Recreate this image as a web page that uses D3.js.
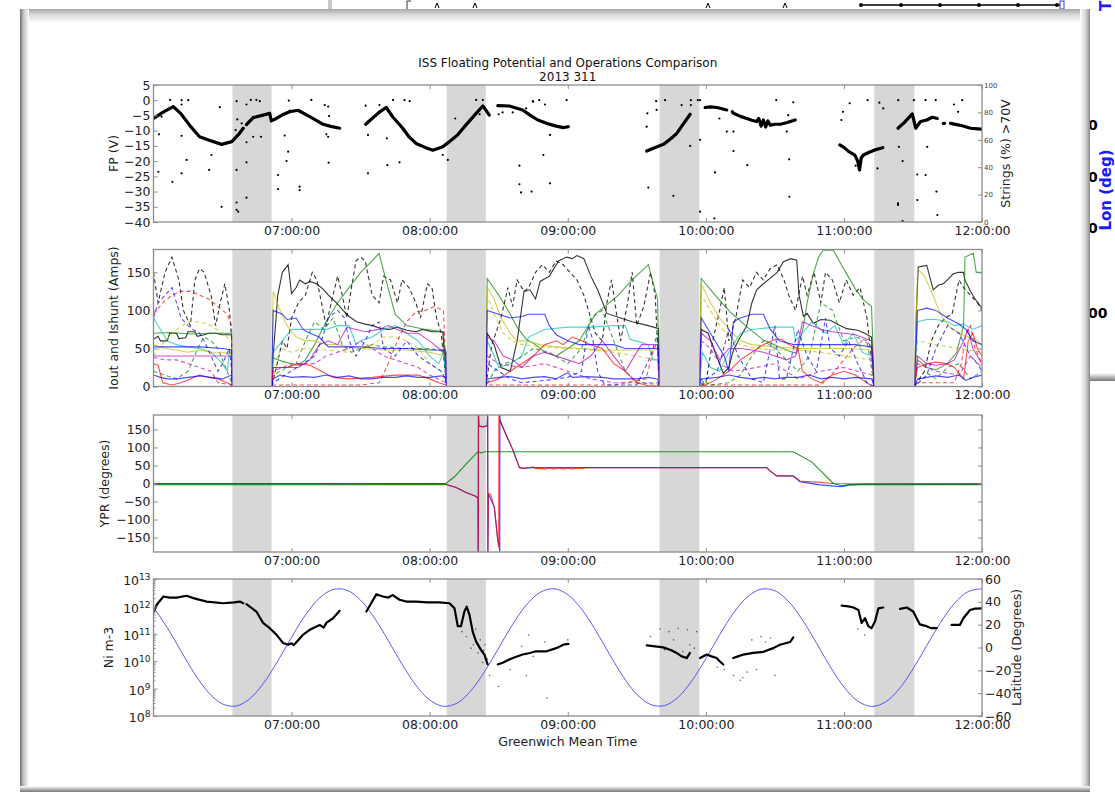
<!DOCTYPE html>
<html>
<head>
<meta charset="utf-8">
<script src="https://cdn.jsdelivr.net/npm/d3@7"></script>
<style>
  body { margin: 0; background: #fff; }
  svg { display: block; }
</style>
</head>
<body>
<div id="chart"></div>
<script>
// ISS floating potential comparison, 2013 day 311 (06:00 - 12:00 GMT)
// All times are minutes after 06:00:00.

const hourTicks = [7, 8, 9, 10, 11, 12];
const eclipses = [[34.3, 51.3], [127.4, 144.4], [219.9, 237.2], [313.2, 330.6]];

// --- FP (V): dense trace (segments) + stray points
const fpTrace = [
  [[0,-6],[4,-4],[8.6,-2.1],[12,-4.5],[16,-8.5],[20,-12],[24.5,-13.2],[29.6,-14.5],[34,-13.6],[36.8,-11.4],[39,-9.2]],
  [[40.4,-8],[43.3,-5.7],[47.6,-4.9],[50.5,-4.3],[51.2,-6.8],[53.4,-6],[56,-4.8],[59.2,-3.8],[62.8,-3.3],[67.9,-5.4],[73.7,-7.9],[77,-8.6],[80.9,-9.2]],
  [[92.2,-7.9],[95,-6],[98,-4],[101.1,-2.4],[104,-5.5],[108.3,-9.2],[111,-12],[114.1,-14.2],[118,-15.5],[121.4,-16.4],[125.7,-15.3],[128.6,-13.6],[132,-11.5],[135.8,-8.1],[140,-4.5],[143.1,-1.9],[144.2,-3],[145.9,-4.9]],
  [[149.6,-1.8],[154.6,-1.9],[160.4,-3.2],[163.6,-4.9],[167,-6.5],[170.8,-7.6],[175,-8.5],[178,-9],[180.2,-8.7]],
  [[214.3,-16.7],[218,-15.5],[221.6,-14.5],[225,-12.5],[227.4,-10.9],[230,-8],[233.2,-4.6]],
  [[239.7,-2.4],[242,-2.2],[244.8,-2.4],[247,-2.8],[249.1,-3.2]],
  [[251.5,-3.8],[252,-4.3],[255,-5.3],[257.8,-6],[260,-6.6],[262,-7],[263,-6],[264,-8.5],[265,-6.5],[266,-8.8],[267,-6.8],[268,-8.2],[270,-7.9],[272.3,-7.9],[275,-7.4],[278.8,-6.5]],
  [[298.2,-14.7],[300,-15.5],[302,-16.8],[304.7,-18],[306,-20],[306.8,-22.9],[307.5,-19],[308.5,-18],[311,-17.1],[314,-16.2],[316.9,-15.6]],
  [[323.5,-9.2],[326,-7.5],[329.7,-4.5],[331.2,-9.2],[333.3,-7],[336,-6.5],[338.4,-5.6],[340.6,-6]],
  [[343.2,-7.6],[343.7,-7.6]],
  [[346.3,-7.6],[349,-8],[351.4,-8.4],[355,-9.2],[359.6,-9.5]]
];
const fpScatter = [
  [7.2,0.1],[12.2,0],[12.2,-1.4],[15.1,0],[3.5,-5.4],[2.4,-11.2],[2.1,-23.5],[8.2,-26.8],[12.2,-11.7],[14.4,-19.6],
  [12.2,-24],[24.2,-22.9],[25.2,-18],[29.6,-35],[28.8,-2.3],[36.1,-0.3],[36.4,-6.3],[35.7,-9.8],[36.1,-22.9],[36.1,-33.6],
  [36.1,-36],[36.8,-36.6],[40.4,-1.4],[42.3,0.1],[44.7,0.1],[40.4,-13.8],[40.4,-20.4],[43.3,-12],[46.7,-12],[40.4,-32],
  [46.2,-0.3],[38.3,-7.6],[58.8,-0.1],[59.2,-3.4],[57,-11.6],[58.5,-16.9],[57.8,-20],[54.1,-24.6],[54.1,-29.2],[63.5,-28.4],
  [63.5,-29.5],[68.6,0.1],[74.4,-1.6],[75.9,-2.1],[76.3,-5.2],[75.1,-11.2],[75.9,-12],[76.1,-20.5],[92.2,-1.8],[93.2,-11.4],
  [93.2,-24],[98.2,-1.6],[101.4,-12.5],[101.6,-21.3],[104.1,0.1],[106.9,-20.4],[109.1,0],[111.3,-0.3],[125.7,-18],[127.9,-19.6],
  [131.1,-6],[140.2,0.1],[143.1,0.1],[141.7,-4.6],[150,-4.6],[151.7,-4],[156.1,-4],[159,-21.5],[159,-27.6],[159.7,-30.3],
  [161.9,-2.7],[164.8,-0.3],[167.6,0],[165,-0.5],[170.1,-1.4],[169.4,-18],[172.3,-11.4],[172.3,-27.3],[164.3,-30],[179.5,0],
  [214.3,-8.7],[214.6,-4.3],[215,-28.7],[218.4,-0.3],[218.6,-3.2],[222.3,0],[225.9,-31.4],[229.5,-1.6],[233.5,0],[233.2,-15],
  [233.5,-1.6],[237.5,-13],[237.5,-36.6],[236.5,0],[237.5,0],[243.7,-38.8],[244,-23.7],[245.9,-6],[249.1,-10.3],[252,-10.3],
  [252,-16.7],[258,-21.3],[270.6,0],[275.2,-10.3],[276.2,-19.4],[276.3,-31.7],[278,-0.7],[275.8,-4.9],[298.9,-6.5],[299.6,-3.8],
  [302.5,-1],[310.3,0],[315.4,-0.8],[317.1,-2.7],[314.6,-22.4],[305.1,-21.5],[323.5,-33.9],[323.5,-34.4],[323.6,0],[323.9,-15.3],
  [325.5,-20],[325.5,-39.7],[330.4,0],[331.9,-24.4],[331.9,-32.8],[335.5,-24.6],[336.2,-15.3],[335.5,0],[339.9,0],[340.2,-30],
  [340.6,-37.7],[347.8,-1.4],[349.6,-3.8],[351.4,0]
];

// --- Iout and Ishunt (Amps): one entry per sunlit window (A..E)
const iBlack = [
  [[0,62],[2,66],[3,60],[6,60],[7,70],[10,70],[11,63],[14,64],[15,72],[18,72],[19,66],[22,68],[24,70],[27,70],[30,68],[34,68]],
  [[52,40],[54,120],[56,150],[58.5,160],[60,122],[62,130],[63.5,140],[66,135],[68,138],[70.8,135],[73.7,128],[76,120],[79.5,110],[82.4,100],[85,92],[88.2,85],[92,82],[95.3,80],[99,76],[102.6,75],[106,78],[110,74],[114,72],[117,75],[121,72],[125.7,72]],
  [[145,70],[148,55],[151,25],[155,20],[158,60],[161,125],[163.6,127],[166,115],[168,138],[172,145],[176,165],[179.5,170],[182,168],[184,172],[187,168],[190,145],[193,127],[197,96],[203,90],[208,85],[215,80],[219.5,76]],
  [[238,75],[241,70],[244,45],[247.6,17],[250,25],[252,48],[255,65],[257.7,79],[260,110],[262.1,127],[265,135],[267.9,142],[271,150],[273.7,164],[277,168],[279.5,166],[280.5,120],[282.4,92],[284,96],[286.7,83],[290,88],[294,87],[297,82],[301.2,76],[306,74],[309,70],[312,65]],
  [[331.5,100],[332.3,157],[336,159],[338.8,127],[341,133],[343.2,135],[345,140],[347.5,148],[350,150],[351.9,150],[352.6,140],[355,125],[357,115],[360,103]]
];
const iBlackDash = [
  [[0,150],[2,110],[5,150],[8,170],[11,140],[13,100],[16,80],[18,140],[20,155],[22,150],[25,120],[27,80],[29,110],[31,135],[33,100],[34,60]],
  [[53,20],[56,60],[58,50],[60,90],[63,110],[66,120],[69,150],[71,140],[73,110],[75,80],[78,120],[80,145],[82,120],[84,90],[86,130],[88,165],[90,170],[92,165],[95,120],[98,110],[100,145],[103,140],[106,110],[108,140],[111,130],[114,110],[116,90],[119,135],[121,130],[123,90],[125,70]],
  [[147,55],[151,90],[154,130],[156,105],[158,140],[161,125],[163,130],[166,150],[169,160],[172,150],[175,165],[178,160],[181,150],[184,140],[187,120],[189,100],[192,70],[195,60],[197,110],[199,140],[201,100],[203,60],[206,110],[208,150],[210,80],[213,105],[216,150],[218,120]],
  [[240,5],[243,60],[246,100],[248,130],[250,60],[253,90],[256,140],[259,130],[262,150],[265,140],[268,155],[271,160],[274,140],[276,120],[279,100],[282,145],[284,120],[287,150],[290,110],[292,150],[295,140],[298,110],[301,140],[304,120],[307,130],[310,90]],
  [[335,20],[338,60],[341,80],[344,90],[347,95],[350,140],[352,130],[355,120],[358,110],[360,100]]
];
const iGreen = [
  [[0,70],[8,71],[16,69],[24,70],[34,70]],
  [[51.5,38],[56,33],[60,30],[63,28],[66,35],[70,55],[75,85],[80,110],[85,130],[90,150],[95,165],[98,175],[101,140],[105,95],[110,80],[118,75],[126,72]],
  [[145,142],[150,120],[155,95],[158,78],[162,62],[166,55],[170,45],[175,40],[180,50],[185,60],[188,75],[192,95],[196,105],[202,120],[208,140],[215,160],[219,115]],
  [[238,142],[244,120],[250.5,98],[258,78],[265,61],[272,52],[276.6,46],[279.5,44],[280.5,55],[282.4,79],[284,110],[286.7,148],[289,170],[291,179],[295.4,179],[298,165],[301.2,148],[305,128],[308.4,114],[312,105]],
  [[332,35],[336,25],[340,22],[345,30],[349,45],[352,80],[352.6,170],[356.2,175],[357.5,150],[360,150]]
];
const iGreenDash = [
  [[0,20],[5,15],[10,10],[15,20],[20,55],[22,65],[25,60],[28,50],[32,20],[34,5]],
  [[52,15],[58,25],[62,30],[66,60],[70,85],[74,75],[78,90],[82,55],[86,45],[90,50],[95,55],[100,52],[110,50],[120,50],[127,45]],
  [[148,20],[152,30],[158,35],[165,50],[172,45],[180,30],[186,50],[190,90],[195,100],[200,60],[205,20],[210,5],[219,3]],
  [[238,10],[242,2],[250,5],[255,15],[260,40],[265,60],[270,50],[280,20],[285,40],[290,110],[295,100],[300,60],[305,65],[310,60]],
  [[335,20],[340,10],[345,25],[350,30],[355,10],[360,20]]
];
const iCyan = [
  [[0,90],[3,75],[6,60],[10,55],[15,52],[20,50],[25,45],[30,30],[32,20],[33,45],[34,40]],
  [[52,45],[56,60],[60,75],[65,75],[70,75],[75,75],[80,80],[85,80],[88,55],[90,60],[95,65],[100,75],[105,80],[110,70],[115,60],[120,40],[124,30],[126,45]],
  [[145,60],[148,40],[150,25],[155,30],[160,40],[163,65],[170,75],[180,78],[190,78],[200,80],[205,80],[207,62],[212,58],[215,55],[217,35],[219,35]],
  [[238.5,45],[242,25],[246,20],[250,45],[255,70],[260,75],[270,78],[278,78],[279,60],[282,70],[286,85],[292,70],[296,80],[300,55],[304,70],[308,45],[312,40]],
  [[332,85],[336,88],[340,88],[345,85],[348,80],[352,82],[356,75],[360,80]]
];
const iBlue = [
  [[0,52],[10,52],[20,52],[30,50],[34,48]],
  [[52,100],[56,95],[58,88],[62,90],[65,75],[68,70],[72,65],[76,52],[80,52],[90,52],[100,50],[110,50],[120,48],[127,48]],
  [[145,100],[150,95],[155,90],[160,92],[163,95],[170,95],[172,80],[175,68],[180,60],[185,55],[190,55],[200,55],[205,50],[210,50],[215,50],[219.5,50]],
  [[238,90],[242,70],[248,40],[250,20],[252,85],[255,90],[260,95],[265,95],[268,75],[272,60],[278,55],[285,55],[290,55],[295,55],[300,55],[305,55],[312,52]],
  [[332,100],[336,103],[340,100],[345,90],[350,82],[353,75],[356,60],[360,55]]
];
const iBlueLow = [
  [[0,15],[3,12],[6,10],[10,10],[15,12],[20,14],[25,12],[30,10],[34,15]],
  [[52,10],[55,15],[60,12],[65,13],[70,12],[75,15],[80,12],[85,14],[90,10],[95,10],[100,12],[105,12],[110,14],[115,12],[120,12],[125,14],[127,12]],
  [[145,10],[150,12],[155,13],[160,10],[165,12],[170,13],[175,10],[178,15],[180,18],[182,12],[188,13],[195,12],[200,10],[205,10],[210,10],[215,12],[219,10]],
  [[238,10],[245,12],[250,15],[255,12],[260,10],[265,12],[270,10],[275,12],[280,12],[285,15],[290,10],[295,12],[300,10],[305,12],[312,10]],
  [[332,10],[336,12],[340,14],[345,12],[350,15],[353,8],[356,12],[360,15]]
];
const iBlueDash = [
  [[0,90],[2,110],[5,120],[8,130],[10,110],[12,90],[15,80],[17,75],[20,70],[22,60],[25,40],[28,20],[30,30],[33,50],[34,20]],
  [[52,5],[70,40],[73,60],[76,90],[80,100],[83,90],[85,60],[88,40],[92,60],[95,80],[98,85],[100,50],[105,40],[110,60],[115,40],[120,30],[125,20],[127,10]],
  [[145,30],[150,20],[155,10],[160,5],[170,8],[180,12],[186,20],[189,80],[191,60],[193,20],[196,2],[210,2],[216,40],[219,70]],
  [[240,10],[245,20],[250,75],[254,40],[260,10],[265,5],[270,80],[272,10],[275,10],[280,75],[284,40],[288,20],[292,90],[294,50],[298,40],[302,60],[306,30],[310,5]],
  [[336,15],[340,50],[345,80],[350,70],[355,40],[358,30],[360,20]]
];
const iRed = [
  [[0,30],[2,28],[4,5],[8,2],[12,5],[16,10],[20,15],[24,12],[28,10],[32,5],[34,2]],
  [[52,25],[58,25],[63,30],[68,28],[73,20],[78,12],[85,10],[95,12],[105,15],[115,15],[120,10],[124,5],[127,2]],
  [[145,5],[150,10],[155,20],[160,30],[165,40],[170,55],[175,60],[178,55],[182,65],[186,60],[190,55],[195,50],[200,30],[205,20],[210,5],[215,1],[219,1]],
  [[240,2],[245,10],[250,20],[255,35],[260,45],[265,55],[270,62],[273,62],[276,55],[280,50],[282,20],[286,10],[290,5],[295,15],[300,20],[305,15],[310,5],[312,1]],
  [[332,25],[336,30],[340,32],[345,30],[348,25],[352,10],[354,60],[356,70],[358,50],[360,40]]
];
const iRedDash = [
  [[0,95],[4,110],[8,120],[12,125],[16,125],[20,120],[24,115],[28,105],[32,95],[34,80]],
  [[52,2],[90,2],[98,5],[102,30],[106,60],[110,85],[114,98],[118,100],[122,105],[126,100]],
  [[145,2],[200,2],[214,10],[217,45],[219,60]],
  [[238,2],[290,2],[296,20],[300,35],[304,50],[308,60],[312,55]],
  [[332,5],[348,5],[351,30],[353,70],[355,80],[357,50],[360,30]]
];
const iYellow = [
  [[0,55],[5,50],[10,48],[15,45],[20,48],[25,45],[30,45],[34,42]],
  [[52,125],[55,100],[58,80],[62,65],[66,60],[70,60],[75,55],[80,55],[85,52],[90,50],[100,48],[110,48],[120,45],[127,40]],
  [[145,130],[148,115],[151,90],[155,70],[158,60],[162,60],[168,55],[175,52],[185,50],[195,48],[205,48],[219,48]],
  [[238,135],[242,110],[246,90],[250,75],[255,60],[260,55],[270,52],[280,50],[290,50],[300,50],[312,48]],
  [[332,155],[335,145],[338,125],[342,95],[346,78],[350,70],[354,65],[358,60],[360,55]]
];
const iYellowDash = [
  [[0,40],[5,60],[10,75],[15,85],[20,85],[25,80],[30,70],[34,60]],
  [[55,50],[60,45],[65,50],[75,48],[85,45],[95,55],[100,65],[105,65],[110,60],[115,50],[120,30],[125,20],[127,5]],
  [[145,120],[148,95],[152,70],[156,60],[160,55],[170,52],[180,50],[190,48],[200,45],[210,40],[219,35]],
  [[238,120],[242,100],[246,80],[250,65],[255,55],[262,50],[270,48],[280,48],[290,45],[300,40],[312,35]],
  [[332,60],[340,55],[350,50],[360,45]]
];
const iMagenta = [
  [[0,40],[10,40],[20,40],[30,40],[34,40]],
  [[52,25],[58,25],[63,25],[68,35],[72,55],[76,60],[80,55],[84,78],[88,75],[92,72],[98,75],[102,80],[106,75],[110,70],[115,70],[120,60],[124,50],[127,45]],
  [[145,65],[148,60],[152,40],[156,35],[160,25],[165,40],[170,45],[175,40],[180,35],[185,30],[190,40],[195,60],[200,40],[205,20],[208,35],[212,55],[216,55],[219,55]],
  [[238,70],[242,60],[246,35],[250,50],[255,50],[260,48],[265,45],[270,40],[275,35],[279,40],[282,85],[286,80],[290,75],[295,72],[300,70],[305,68],[310,62],[312,60]],
  [[332,40],[336,30],[340,28],[345,30],[348,35],[352,60],[354,75],[356,50],[358,40],[360,30]]
];
const iMagentaDash = [
  [[0,38],[5,35],[10,35],[15,30],[20,25],[25,20],[28,5],[34,2]],
  [[52,20],[60,30],[70,30],[75,40],[80,45],[85,50],[90,60],[95,50],[100,40],[105,35],[110,30],[115,25],[120,15],[127,5]],
  [[145,40],[150,30],[160,25],[170,30],[180,20],[190,10],[200,5],[219,5]],
  [[238,60],[242,50],[246,30],[252,20],[262,25],[270,30],[280,10],[290,20],[300,25],[312,15]],
  [[332,30],[340,20],[350,15],[355,40],[360,25]]
];

// --- YPR (degrees)
const yprBlue = [[0,0],[60,0],[126,0],[131.5,-11],[135.8,-25],[139.5,-34],[141,-40],[141.1,-195],[141.2,195],[141.4,160],[143,157],[145,160],[145.2,195],[145.3,-195],[145.5,-28],[148.1,-66],[149.6,-157],[150.4,-178],[150.45,-195],[150.5,195],[150.6,176],[153.2,135],[156.1,94],[159,44],[160.4,42],[163.6,44],[200,44],[266.4,44],[267.9,35],[270.8,21],[278,21],[280.9,5],[289.6,-4],[299,-9],[302.6,-4],[310,-2],[360,-1]];
const yprRed = [[0,0],[60,0],[126,-1],[131.5,-11],[135.8,-25],[139.5,-34],[141,-40],[141.1,-195],[141.2,195],[141.4,160],[143,157],[145,160],[145.2,195],[145.3,-195],[145.5,-28],[146.5,-30],[148.1,-66],[149.6,-157],[150,-178],[150.05,195],[150.3,176],[153.2,135],[156.1,94],[159,44],[160.4,42],[163.6,44],[165,46],[166,41],[168,42],[170,40],[172,43],[174,40],[176,43],[178,40],[180,43],[182,40],[184,43],[186,41],[188,44],[200,44],[266.4,44],[267.9,35],[270.8,21],[278,21],[280.9,7],[289.6,3],[295.4,0],[360,-1]];
const yprGreen = [[0,-3],[60,-3],[126.4,-3],[131,20],[136,55],[140.9,88],[142.5,85],[144,88],[200,88],[278,88],[286,60],[295.4,0],[299,-6],[302.6,-3],[360,-3]];

// --- Ni m-3 (segments) and scatter
const niTrace = [
  [[0.2,6.5e11],[1.4,1.15e12],[4.3,2.3e12],[7,2.1e12],[10.1,2.1e12],[14.4,2.45e12],[17.3,2.0e12],[23.1,1.5e12],[30.3,1.3e12],[35,1.4e12],[37.5,1.5e12],[39,1.3e12]],
  [[40.4,1.2e12],[44.7,6.5e11],[47.6,2.5e11],[50.5,1.6e11],[53.4,9.3e10],[56.3,4.6e10],[58.5,4e10],[60,4.5e10],[60.9,3.8e10],[65,9.3e10],[67.9,1.4e11],[72.2,2.1e11],[74,1.7e11],[75.1,2.5e11],[78,3.7e11],[80.9,6.9e11]],
  [[92.5,6.5e11],[94.6,1.3e12],[96.8,2.75e12],[99.7,2.3e12],[102,2.1e12],[104,2.6e12],[106.9,1.75e12],[110,1.5e12],[114.1,1.5e12],[119,1.4e12],[124.2,1.4e12],[128.6,1.3e12],[130.8,8.5e11],[132.2,1.9e11],[133.6,1.9e11],[135.1,6.5e11],[136.1,9.8e11],[137.3,4.9e11],[138.7,1.2e11],[140.2,5.2e10],[142.3,2.6e10],[143.8,1.75e10],[145.2,7.6e9]],
  [[149.6,7.6e9],[152,9e9],[154.6,1.15e10],[157,1.4e10],[160.4,1.75e10],[163.6,2e10],[166.2,2.3e10],[170.8,2.3e10],[175,3e10],[178.1,4e10],[180.3,4.3e10]],
  [[214.3,3.8e10],[218,3.5e10],[221.5,3.2e10],[225,2.5e10],[227.3,2e10],[229.5,1.5e10],[231.7,1.3e10],[233.1,2e10]],
  [[237.5,1.3e10],[240.4,1.75e10],[242.5,1.5e10],[244.7,1.3e10],[246,1e10],[247.6,7.6e9]],
  [[251.9,1.3e10],[254,1.5e10],[256.3,1.75e10],[260.6,2e10],[265,2.2e10],[269.3,3e10],[272.2,4e10],[276.6,5e10],[278,7.4e10]],
  [[299,1.07e12],[302,1e12],[304.1,9.1e11],[306.3,7.4e11],[307.7,2.5e11],[309.2,3.7e11],[310.6,1.9e11],[312,1.6e11],[313.5,2.8e11],[315,8.5e11],[317.1,9.1e11]],
  [[324.4,8.1e11],[327.3,9.1e11],[330.1,6.5e11],[333,2.2e11],[335.9,1.9e11],[338,1.6e11],[340.3,1.6e11]],
  [[346.8,2.1e11],[350.4,2.1e11],[351.9,3.7e11],[354.8,7.4e11],[357,8.3e11],[360,8.5e11]]
];
const niScatter = [
  [134,1.2e11],[136,8e10],[138,3e10],[140,1.5e11],[141,2e10],[142,6e10],[143,9e9],[144,4e10],[145,1.2e10],[146,3e9],
  [143.5,2.5e10],[139,4e10],[155,5e9],[160,3.5e10],[165,1.5e10],[170,5e10],[176,3e10],[180,6e10],[162,3e9],[150,1.2e9],
  [216,8e10],[220,1.5e11],[224,1.2e11],[228,1.6e11],[232,1.4e11],[226,6e10],[233,4e10],[236,1.2e11],[235,3e10],[245,6e9],
  [248,5e9],[252,3e9],[255,2e9],[258,4e9],[262,5e9],[264,8e10],[266,5e10],[260,6e10],[268,7e10],[270,3e9],[256,2.5e9],
  [306,1.5e11],[309,9e10],[171,4.6e8],[163,9e10],[230,2.2e10],[222,2.6e10]
];

// --- Latitude (deg), one reading every 6 minutes from 06:00
const latStepMin = 6;
const latitude = [
  35.2,17.3,-3.3,-23.4,-39.7,-49.5,-51.2,-44.6,-30.7,-11.8,9.0,28.4,43.1,50.8,50.2,41.4,25.9,6.1,-14.6,-33.0,
  -46.0,-51.5,-48.6,-37.7,-20.7,-0.4,20.1,37.2,48.3,51.5,46.3,33.6,15.4,-5.4,-25.2,-41.0,-50.0,-50.9,-43.5,-29.0,
  -9.8,11.1,30.1,44.2,51.1,49.7,40.2,24.1,4.1,-16.6,-34.6,-46.9,-51.6,-47.8,-36.3,-18.8,1.7,22.0,38.6,49.0,51.4
];

// ---------------------------------------------------------------------------
const FONT = "'DejaVu Sans', sans-serif";
const W = 1115, H = 792;
const PLOT_L = 153.5, PLOT_R = 982, PANEL_H = 137;
const panelTops = [85, 249.5, 415, 579];
const FRAME = '#8c8c8c';
const SHADE = '#d7d7d7';
const T0 = Date.UTC(2013, 10, 7, 6, 0, 0);
const toDate = m => new Date(T0 + m * 60000);

const svg = d3.select('#chart').append('svg')
  .attr('width', W).attr('height', H)
  .attr('font-family', FONT);
const defs = svg.append('defs');

function grad(id, x2, y2, stops) {
  const g = defs.append('linearGradient').attr('id', id)
    .attr('x1', 0).attr('y1', 0).attr('x2', x2).attr('y2', y2);
  stops.forEach(([o, c]) => g.append('stop').attr('offset', o).attr('stop-color', c));
}
grad('gLeft', 1, 0, [[0, '#6f6f6f'], [0.35, '#bdbdbd'], [1, '#ffffff']]);
grad('gTop', 0, 1, [[0, '#a8a8a8'], [0.4, '#d8d8d8'], [1, '#ffffff']]);
grad('gRight', 1, 0, [[0, '#ffffff'], [0.6, '#cfcfcf'], [1, '#8a8a8a']]);
grad('gBottom', 0, 1, [[0, '#ffffff'], [1, '#777777']]);

// ---- windows behind (background decoration)
svg.append('rect').attr('width', W).attr('height', H).attr('fill', '#fff');
svg.append('rect').attr('x', 328).attr('y', 0).attr('width', 4).attr('height', 12).attr('fill', '#c8c8c8');
svg.append('line').attr('x1', 861).attr('x2', 1060).attr('y1', 5).attr('y2', 5)
  .attr('stroke', '#000').attr('stroke-width', 1.6);
[861, 901, 940, 979, 1018, 1057].forEach(cx =>
  svg.append('circle').attr('cx', cx).attr('cy', 5).attr('r', 2).attr('fill', '#000'));
[437, 475, 708, 785].forEach(cx =>
  svg.append('path').attr('d', `M${cx - 2},8 L${cx},3 L${cx + 2},8`).attr('fill', 'none').attr('stroke', '#000'));
svg.append('path').attr('d', 'M407,9 L407,1 L411,1').attr('fill', 'none').attr('stroke', '#333');
svg.append('rect').attr('x', 1060).attr('y', 1).attr('width', 4).attr('height', 8).attr('fill', 'none').attr('stroke', '#33f');
// right-hand window
svg.append('rect').attr('x', 1088).attr('y', 0).attr('width', 27).attr('height', 377).attr('fill', '#fff');
svg.append('rect').attr('x', 1088).attr('y', 373).attr('width', 27).attr('height', 8).attr('fill', 'url(#gBottom)');
svg.append('text').attr('transform', 'translate(1111,190) rotate(-90)')
  .attr('text-anchor', 'middle').attr('font-size', 15).attr('font-weight', 'bold')
  .attr('fill', '#1a1aff').text('Lon (deg)');
svg.append('text').attr('transform', 'translate(1111,6) rotate(-90)')
  .attr('text-anchor', 'middle').attr('font-size', 15).attr('font-weight', 'bold')
  .attr('fill', '#1a1aff').text('T');
[[130, '0'], [182, '0'], [233, '0'], [318, '00']].forEach(([y, t]) =>
  svg.append('text').attr('x', 1088).attr('y', y).attr('font-size', 14).attr('font-weight', 'bold')
    .attr('fill', '#000').text(t));

// ---- main window
svg.append('rect').attr('x', 20).attr('y', 9).attr('width', 1070).attr('height', 790).attr('fill', '#fff');
svg.append('rect').attr('x', 20).attr('y', 9).attr('width', 1070).attr('height', 14).attr('fill', 'url(#gTop)');
svg.append('rect').attr('x', 20).attr('y', 9).attr('width', 9).attr('height', 790).attr('fill', 'url(#gLeft)');
svg.append('rect').attr('x', 1080).attr('y', 9).attr('width', 10).attr('height', 790).attr('fill', 'url(#gRight)');
svg.append('rect').attr('x', 20).attr('y', 786).attr('width', 1070).attr('height', 6).attr('fill', 'url(#gBottom)');

// ---- scales
const x = d3.scaleUtc().domain([toDate(0), toDate(360)]).range([PLOT_L, PLOT_R]);
const tickDates = hourTicks.map(h => toDate((h - 6) * 60));
const xm = m => x(toDate(m));

const yFP = d3.scaleLinear().domain([-40, 5]).range([panelTops[0] + PANEL_H, panelTops[0]]);
const yStr = d3.scaleLinear().domain([0, 100]).range([panelTops[0] + PANEL_H, panelTops[0]]);
const yI = d3.scaleLinear().domain([0, 180]).range([panelTops[1] + PANEL_H, panelTops[1]]);
const yYPR = d3.scaleLinear().domain([-190, 190]).range([panelTops[2] + PANEL_H, panelTops[2]]);
const yNi = d3.scaleLog().domain([1e8, 1e13]).range([panelTops[3] + PANEL_H, panelTops[3]]);
const yLat = d3.scaleLinear().domain([-60, 60]).range([panelTops[3] + PANEL_H, panelTops[3]]);

// ---- helpers
function clipFor(i) {
  const id = 'clip' + i;
  defs.append('clipPath').attr('id', id).append('rect')
    .attr('x', PLOT_L).attr('y', panelTops[i]).attr('width', PLOT_R - PLOT_L).attr('height', PANEL_H);
  return `url(#${id})`;
}
function shades(g, top) {
  eclipses.forEach(([a, b]) => {
    g.append('rect').attr('x', xm(a)).attr('y', top)
      .attr('width', xm(b) - xm(a)).attr('height', PANEL_H).attr('fill', SHADE);
  });
}
function styleAxis(g, size) {
  g.attr('font-family', FONT).attr('font-size', size || 12.5);
  g.select('.domain').remove();
  g.selectAll('.tick line').attr('stroke', FRAME);
  g.selectAll('.tick text').attr('fill', '#222');
  return g;
}
function xAxes(i) {
  const top = panelTops[i], bottom = top + PANEL_H;
  styleAxis(svg.append('g').attr('transform', `translate(0,${bottom})`)
    .call(d3.axisBottom(x).tickValues(tickDates).tickFormat(d3.utcFormat('%H:%M:%S'))
      .tickSize(-4).tickPadding(4)));
  styleAxis(svg.append('g').attr('transform', `translate(0,${top})`)
    .call(d3.axisTop(x).tickValues(tickDates).tickFormat('').tickSize(-4)));
}
function frame(i) {
  svg.append('rect').attr('x', PLOT_L).attr('y', panelTops[i])
    .attr('width', PLOT_R - PLOT_L).attr('height', PANEL_H)
    .attr('fill', 'none').attr('stroke', FRAME).attr('stroke-width', 1.3);
}
function leftAxis(scale, values, mirror) {
  styleAxis(svg.append('g').attr('transform', `translate(${PLOT_L},0)`)
    .call(d3.axisLeft(scale).tickValues(values).tickSize(-4).tickPadding(3)));
  if (mirror) {
    styleAxis(svg.append('g').attr('transform', `translate(${PLOT_R},0)`)
      .call(d3.axisRight(scale).tickValues(values).tickFormat('').tickSize(-4)));
  }
}
function yLabel(xPos, yPos, text, size) {
  svg.append('text').attr('transform', `translate(${xPos},${yPos}) rotate(-90)`)
    .attr('text-anchor', 'middle').attr('font-size', size || 12.5).attr('fill', '#222').text(text);
}
// windows A..E joined through the eclipses at zero current
function withEclipses(windows) {
  const pts = [];
  windows.forEach((w, k) => {
    if (k > 0) pts.push([eclipses[k - 1][1], 0]);
    pts.push(...w);
    if (k < eclipses.length) pts.push([eclipses[k][0], 0]);
  });
  return pts;
}

// ---- title
svg.append('text').attr('x', (PLOT_L + PLOT_R) / 2).attr('y', 67)
  .attr('text-anchor', 'middle').attr('font-size', 12).attr('fill', '#111')
  .text('ISS Floating Potential and Operations Comparison');
svg.append('text').attr('x', (PLOT_L + PLOT_R) / 2).attr('y', 81)
  .attr('text-anchor', 'middle').attr('font-size', 12).attr('fill', '#111')
  .text('2013 311');

// ================= Panel 1: FP =================
{
  const g = svg.append('g');
  shades(g, panelTops[0]);
  const d = g.append('g').attr('clip-path', clipFor(0));
  const line = d3.line().x(p => xm(p[0])).y(p => yFP(p[1]));
  d.selectAll('path.fp').data(fpTrace).join('path')
    .attr('d', line).attr('fill', 'none').attr('stroke', '#000')
    .attr('stroke-width', 3.2).attr('stroke-linejoin', 'round').attr('stroke-linecap', 'round');
  d.selectAll('circle').data(fpScatter).join('circle')
    .attr('cx', p => xm(p[0])).attr('cy', p => yFP(p[1])).attr('r', 1.1).attr('fill', '#000');
  frame(0);
  xAxes(0);
  leftAxis(yFP, d3.range(-40, 6, 5), false);
  const ra = styleAxis(svg.append('g').attr('transform', `translate(${PLOT_R},0)`)
    .call(d3.axisRight(yStr).tickValues(d3.range(0, 101, 20)).tickSize(-4).tickPadding(2)), 7);
  ra.selectAll('.tick text').attr('fill', '#444');
  yLabel(118, panelTops[0] + PANEL_H / 2, 'FP (V)');
  yLabel(1010, panelTops[0] + PANEL_H / 2, 'Strings (%) >70V', 12.5);
}

// ================= Panel 2: currents =================
{
  const series = [
    { pts: iBlack, color: '#000000', dash: null },
    { pts: iBlackDash, color: '#000000', dash: '4,3' },
    { pts: iGreen, color: '#008000', dash: null },
    { pts: iGreenDash, color: '#008000', dash: '4,3' },
    { pts: iCyan, color: '#00bfbf', dash: null },
    { pts: iYellow, color: '#bfbf00', dash: null },
    { pts: iYellowDash, color: '#bfbf00', dash: '4,3' },
    { pts: iMagenta, color: '#bf00bf', dash: null },
    { pts: iMagentaDash, color: '#bf00bf', dash: '4,3' },
    { pts: iRed, color: '#ff0000', dash: null },
    { pts: iRedDash, color: '#ff0000', dash: '4,3' },
    { pts: iBlue, color: '#0000ff', dash: null },
    { pts: iBlueLow, color: '#0000ff', dash: null },
    { pts: iBlueDash, color: '#0000ff', dash: '4,3' }
  ];
  const d = svg.append('g').attr('clip-path', clipFor(1));
  const line = d3.line().x(p => xm(p[0])).y(p => yI(p[1]));
  series.forEach(s => {
    d.append('path').attr('d', line(withEclipses(s.pts)))
      .attr('fill', 'none').attr('stroke', s.color).attr('stroke-width', 1.1)
      .attr('stroke-opacity', s.color === '#000000' ? 0.8 : 0.7)
      .attr('stroke-dasharray', s.dash);
  });
  shades(svg.append('g'), panelTops[1]);
  frame(1);
  xAxes(1);
  leftAxis(yI, [0, 50, 100, 150], true);
  yLabel(118, panelTops[1] + PANEL_H / 2, 'Iout and Ishunt (Amps)');
}

// ================= Panel 3: YPR =================
{
  const g = svg.append('g');
  shades(g, panelTops[2]);
  const d = g.append('g').attr('clip-path', clipFor(2));
  const line = d3.line().x(p => xm(p[0])).y(p => yYPR(p[1]));
  d.append('path').attr('d', line(yprBlue)).attr('fill', 'none')
    .attr('stroke', '#0000ff').attr('stroke-width', 1.2).attr('stroke-opacity', 0.75);
  d.append('path').attr('d', line(yprRed)).attr('fill', 'none')
    .attr('stroke', '#ff0000').attr('stroke-width', 1.1).attr('stroke-opacity', 0.7);
  d.append('path').attr('d', line(yprGreen)).attr('fill', 'none')
    .attr('stroke', '#008000').attr('stroke-width', 1.1).attr('stroke-opacity', 0.85);
  frame(2);
  xAxes(2);
  leftAxis(yYPR, [-150, -100, -50, 0, 50, 100, 150], true);
  yLabel(109, panelTops[2] + PANEL_H / 2, 'YPR (degrees)');
}

// ================= Panel 4: Ni + latitude =================
{
  const g = svg.append('g');
  shades(g, panelTops[3]);
  const d = g.append('g').attr('clip-path', clipFor(3));
  const latLine = d3.line().curve(d3.curveCatmullRom)
    .x((v, k) => xm(k * latStepMin)).y(v => yLat(v));
  d.append('path').attr('d', latLine(latitude)).attr('fill', 'none')
    .attr('stroke', '#3333ff').attr('stroke-width', 1).attr('stroke-opacity', 0.8);
  d.selectAll('circle').data(niScatter).join('circle')
    .attr('cx', p => xm(p[0])).attr('cy', p => yNi(p[1])).attr('r', 0.8)
    .attr('fill', '#000').attr('fill-opacity', 0.6);
  const line = d3.line().x(p => xm(p[0])).y(p => yNi(p[1]));
  d.selectAll('path.ni').data(niTrace).join('path')
    .attr('d', line).attr('fill', 'none').attr('stroke', '#000')
    .attr('stroke-width', 2.2).attr('stroke-linejoin', 'round').attr('stroke-linecap', 'round');
  frame(3);
  xAxes(3);
  // log axis, labels 10^n
  const majors = [1e8, 1e9, 1e10, 1e11, 1e12, 1e13];
  const la = styleAxis(svg.append('g').attr('transform', `translate(${PLOT_L},0)`)
    .call(d3.axisLeft(yNi).tickValues(majors).tickFormat('').tickSize(-4).tickPadding(3)));
  la.selectAll('.tick text').each(function (v) {
    const t = d3.select(this).attr('dy', '0.45em');
    t.append('tspan').text('10');
    t.append('tspan').attr('dy', '-0.55em').attr('font-size', 9).text(Math.round(Math.log10(v)));
  });
  const minors = [];
  majors.slice(0, -1).forEach(m => d3.range(2, 10).forEach(k => minors.push(m * k)));
  styleAxis(svg.append('g').attr('transform', `translate(${PLOT_L},0)`)
    .call(d3.axisLeft(yNi).tickValues(minors).tickFormat('').tickSize(-2)));
  styleAxis(svg.append('g').attr('transform', `translate(${PLOT_R},0)`)
    .call(d3.axisRight(yLat).tickValues(d3.range(-60, 61, 20)).tickSize(-4).tickPadding(3)));
  yLabel(113, panelTops[3] + PANEL_H / 2, 'Ni m-3');
  yLabel(1021, panelTops[3] + PANEL_H / 2, 'Latitude (Degrees)');
  svg.append('text').attr('x', (PLOT_L + PLOT_R) / 2).attr('y', 746)
    .attr('text-anchor', 'middle').attr('font-size', 12.5).attr('fill', '#222')
    .text('Greenwich Mean Time');
}
</script>
</body>
</html>
